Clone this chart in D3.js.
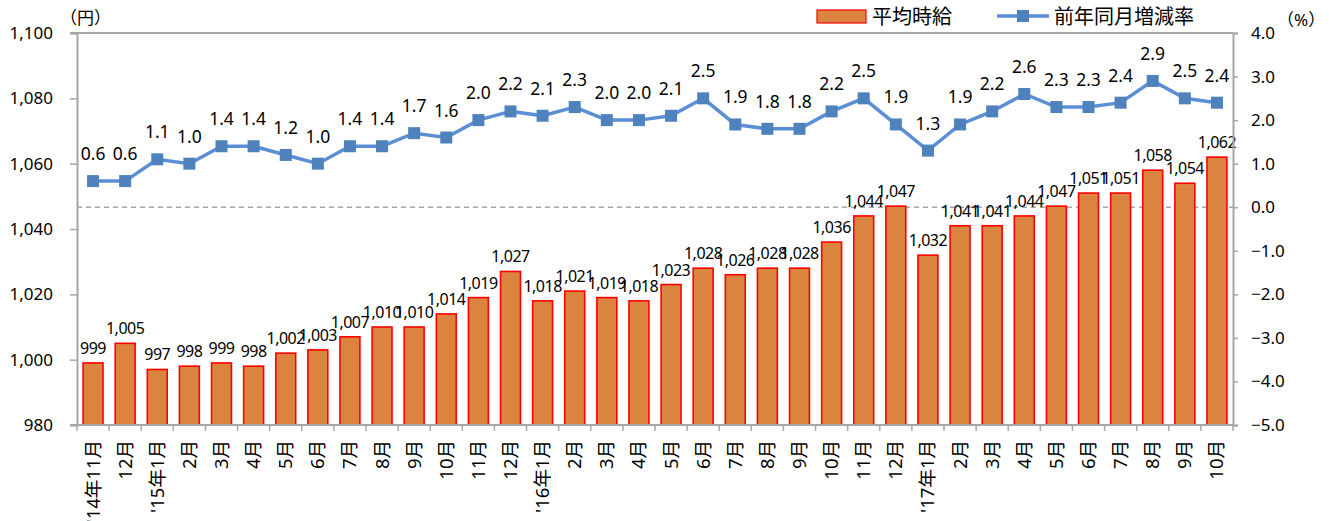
<!DOCTYPE html>
<html><head><meta charset="utf-8">
<script src="https://cdn.jsdelivr.net/npm/d3@7"></script>
<style>
body{margin:0;background:#fff;}
text{font-family:"Noto Sans","Noto Sans CJK JP",sans-serif;fill:#000;}
</style></head><body>
<svg id="chart" width="1329" height="521"></svg>
<script>
const categories = ["'14年11月","12月","'15年1月","2月","3月","4月","5月","6月","7月","8月","9月","10月","11月","12月",
"'16年1月","2月","3月","4月","5月","6月","7月","8月","9月","10月","11月","12月",
"'17年1月","2月","3月","4月","5月","6月","7月","8月","9月","10月"];
const wages = [999,1005,997,998,999,998,1002,1003,1007,1010,1010,1014,1019,1027,1018,1021,1019,1018,1023,1028,1026,1028,1028,1036,1044,1047,1032,1041,1041,1044,1047,1051,1051,1058,1054,1062];
const rates = [0.6,0.6,1.1,1.0,1.4,1.4,1.2,1.0,1.4,1.4,1.7,1.6,2.0,2.2,2.1,2.3,2.0,2.0,2.1,2.5,1.9,1.8,1.8,2.2,2.5,1.9,1.3,1.9,2.2,2.6,2.3,2.3,2.4,2.9,2.5,2.4];
const leftTicks = [980,1000,1020,1040,1060,1080,1100];
const rightTicks = [-5,-4,-3,-2,-1,0,1,2,3,4];
const seriesNames = ["平均時給","前年同月増減率"];

const svg = d3.select("#chart");
const L = 77, R = 1233, T = 33, B = 425;
const x = d3.scaleBand().domain(categories.map((c,i)=>i)).range([L,R]).paddingInner(0.38).paddingOuter(0.19);
const yL = d3.scaleLinear().domain([980,1100]).range([B,T]);
const yR = d3.scaleLinear().domain([-5,4]).range([B,T]);
const axisColor = "#a6a6a6";

// top border
svg.append("line").attr("x1",70).attr("x2",R).attr("y1",T).attr("y2",T).attr("stroke",axisColor).attr("stroke-width",2);

// zero dashed line (right axis)
svg.append("line").attr("x1",L).attr("x2",R).attr("y1",yR(0)).attr("y2",yR(0))
  .attr("stroke","#a6a6a6").attr("stroke-width",1.5).attr("stroke-dasharray","5,4");

// bars
svg.append("g").selectAll("rect").data(wages).join("rect")
  .attr("x",(d,i)=>x(i)).attr("width",x.bandwidth())
  .attr("y",d=>yL(d)).attr("height",d=>B-yL(d))
  .attr("fill","#db843f").attr("stroke","#ff0000").attr("stroke-width",1.6);

// bar labels
svg.append("g").selectAll("text").data(wages).join("text")
  .attr("x",(d,i)=>x(i)+x.bandwidth()/2).attr("y",d=>yL(d)-9)
  .attr("text-anchor","middle").attr("font-size",16).attr("letter-spacing",-0.5)
  .text(d=>d3.format(",")(d));

// left axis
const gL = svg.append("g").attr("transform",`translate(${L},0)`)
  .call(d3.axisLeft(yL).tickValues(leftTicks).tickFormat(d3.format(",")).tickSize(7).tickPadding(17));
gL.select(".domain").attr("stroke",axisColor).attr("stroke-width",2);
gL.selectAll(".tick line").attr("stroke",axisColor).attr("stroke-width",1.5);
gL.selectAll(".tick text").attr("font-size",17).attr("fill","#000").attr("font-family","'Noto Sans',sans-serif");

// right axis
const gR = svg.append("g").attr("transform",`translate(${R},0)`)
  .call(d3.axisRight(yR).tickValues(rightTicks).tickFormat(d3.format(".1f")).tickSize(5).tickPadding(13));
gR.select(".domain").attr("stroke",axisColor).attr("stroke-width",2);
gR.selectAll(".tick line").attr("stroke",axisColor).attr("stroke-width",1.5);
gR.selectAll(".tick text").attr("font-size",17).attr("fill","#000").attr("font-family","'Noto Sans',sans-serif");

// bottom axis
svg.append("line").attr("x1",L-7).attr("x2",R).attr("y1",B).attr("y2",B).attr("stroke",axisColor).attr("stroke-width",2);
const step = x.step();
svg.append("g").selectAll("line").data(d3.range(categories.length+1)).join("line")
  .attr("x1",i=>L+i*step).attr("x2",i=>L+i*step).attr("y1",B).attr("y2",B+6)
  .attr("stroke",axisColor).attr("stroke-width",1.5);
svg.append("g").selectAll("text").data(categories).join("text")
  .attr("transform",(d,i)=>`translate(${x(i)+x.bandwidth()/2+6.5},${B+15}) rotate(-90)`)
  .attr("text-anchor","end").attr("font-size",18.5)
  .attr("font-family","'Noto Sans CJK JP',sans-serif")
  .text(d=>d);

// line
const line = d3.line().x((d,i)=>x(i)+x.bandwidth()/2).y(d=>yR(d));
svg.append("path").datum(rates).attr("d",line).attr("fill","none")
  .attr("stroke","#5b8fd5").attr("stroke-width",3.5);
svg.append("g").selectAll("rect").data(rates).join("rect")
  .attr("x",(d,i)=>x(i)+x.bandwidth()/2-6).attr("y",d=>yR(d)-6)
  .attr("width",12).attr("height",12).attr("fill","#4f81bd");
svg.append("g").selectAll("text").data(rates).join("text")
  .attr("x",(d,i)=>x(i)+x.bandwidth()/2).attr("y",d=>yR(d)-21)
  .attr("text-anchor","middle").attr("font-size",17.5)
  .text(d=>d.toFixed(1));

// axis unit titles
svg.append("text").attr("x",60).attr("y",24).attr("font-size",17)
  .attr("font-family","'Noto Sans CJK JP',sans-serif").text("（円）");
svg.append("text").attr("x",1277).attr("y",26).attr("font-size",17)
  .attr("font-family","'Noto Sans CJK JP',sans-serif").text("（%）");

// legend
const lg = svg.append("g");
lg.append("rect").attr("x",817).attr("y",10).attr("width",49).attr("height",13)
  .attr("fill","#db843f").attr("stroke","#ff0000").attr("stroke-width",1.2);
lg.append("text").attr("x",872).attr("y",24).attr("font-size",20)
  .attr("font-family","'Noto Sans CJK JP',sans-serif").text(seriesNames[0]);
lg.append("line").attr("x1",997).attr("x2",1049).attr("y1",16).attr("y2",16)
  .attr("stroke","#5b8fd5").attr("stroke-width",3.5);
lg.append("rect").attr("x",1017).attr("y",10).attr("width",12).attr("height",12).attr("fill","#4f81bd");
lg.append("text").attr("x",1054).attr("y",24).attr("font-size",20)
  .attr("font-family","'Noto Sans CJK JP',sans-serif").text(seriesNames[1]);
</script>
</body></html>
